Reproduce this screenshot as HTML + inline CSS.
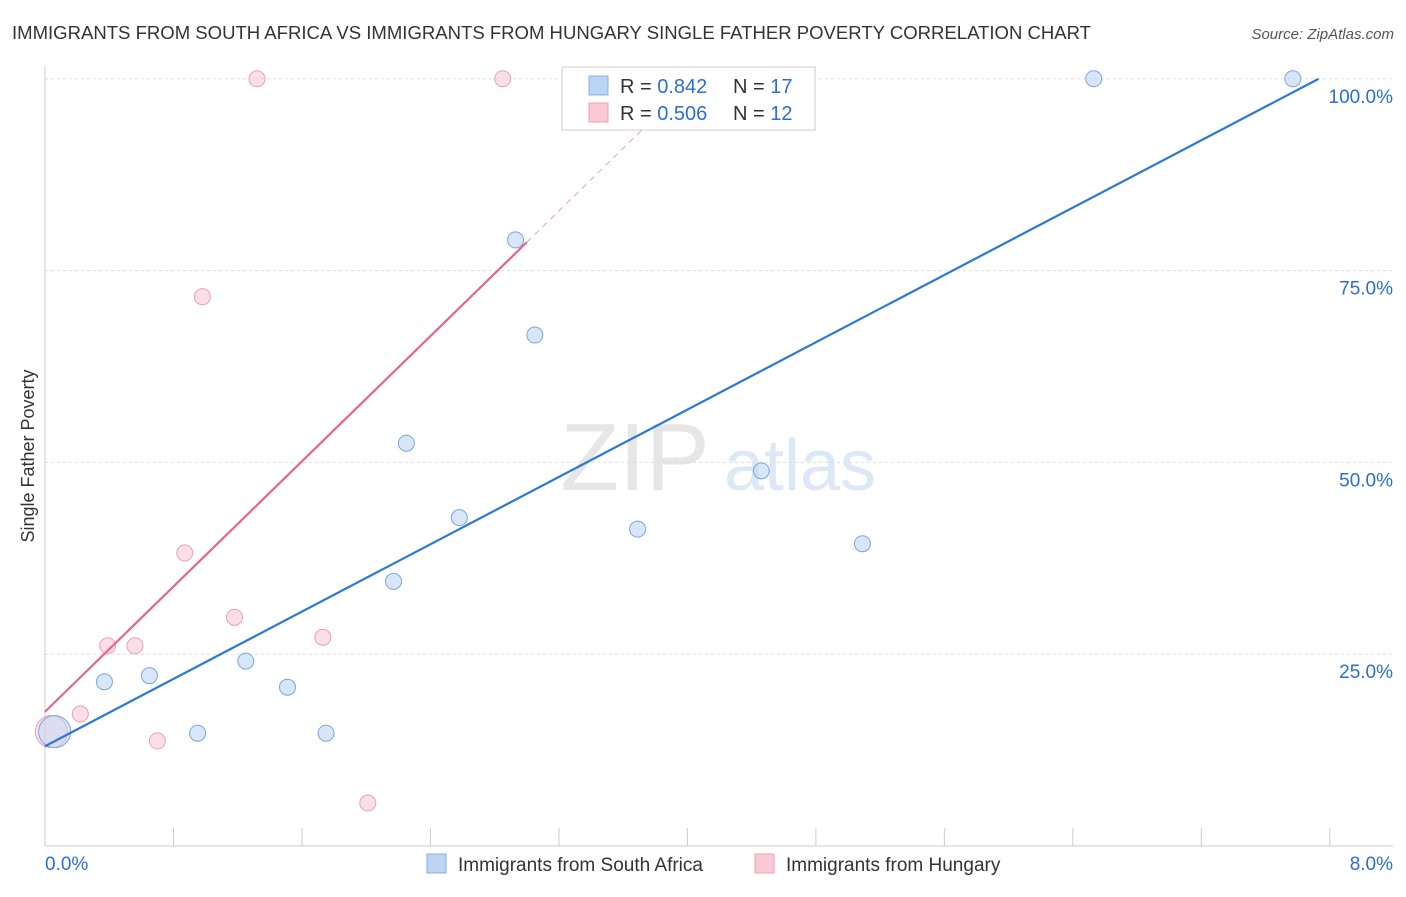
<!DOCTYPE html>
<html><head><meta charset="utf-8"><style>
body{margin:0;background:#fff;font-family:"Liberation Sans",sans-serif}
svg text{font-family:"Liberation Sans",sans-serif}
</style></head><body>
<svg id="c" width="1406" height="892">
<text x="12" y="39" font-size="18.5" fill="#333" textLength="1079" lengthAdjust="spacingAndGlyphs">IMMIGRANTS FROM SOUTH AFRICA VS IMMIGRANTS FROM HUNGARY SINGLE FATHER POVERTY CORRELATION CHART</text>
<text x="1394" y="39" font-size="15" fill="#555" font-style="italic" text-anchor="end">Source: ZipAtlas.com</text>
<g>
<text x="635" y="490" font-size="96" fill="#e6e6e6" text-anchor="middle" font-family="Liberation Serif">ZIP</text>
<text x="800" y="490" font-size="72" fill="#dce8f5" text-anchor="middle">atlas</text>
</g>
<text transform="translate(34,456) rotate(-90)" font-size="18" fill="#333" text-anchor="middle">Single Father Poverty</text>
<g id="grid"></g><g id="marks"></g>
<g>
<rect x="562" y="67" width="253" height="63" fill="#fff" stroke="#ccc"/>
<rect x="589" y="76" width="19" height="19" fill="#bcd5f5" stroke="#8ab0e0"/>
<rect x="589" y="103" width="19" height="19" fill="#f9c9d6" stroke="#eda0b5"/>
<text x="620" y="93" font-size="20" fill="#333">R = <tspan fill="#2a6fd1">0.842</tspan></text>
<text x="733" y="93" font-size="20" fill="#333">N = <tspan fill="#2a6fd1">17</tspan></text>
<text x="620" y="120" font-size="20" fill="#333">R = <tspan fill="#2a6fd1">0.506</tspan></text>
<text x="733" y="120" font-size="20" fill="#333">N = <tspan fill="#2a6fd1">12</tspan></text>
</g>
<g>
<rect x="427" y="854" width="19" height="19" fill="#bcd5f5" stroke="#8ab0e0"/>
<text x="458" y="871" font-size="19" fill="#333">Immigrants from South Africa</text>
<rect x="755" y="854" width="19" height="19" fill="#f9c9d6" stroke="#eda0b5"/>
<text x="786" y="871" font-size="19" fill="#333">Immigrants from Hungary</text>
</g>
</svg>
<script>
const blueX=[0.06,0.37,0.65,0.95,1.25,1.51,1.75,2.17,2.25,2.58,2.93,3.05,3.69,4.46,5.09,6.53,7.77];
const blueY=[14.9,21.4,22.2,14.7,24.1,20.7,14.7,34.5,52.5,42.8,79.0,66.6,41.3,48.9,39.4,100,100];
const pinkX=[0.04,0.22,0.39,0.56,0.70,0.87,0.98,1.18,1.32,1.73,2.01,2.85];
const pinkY=[14.9,17.2,26.1,26.1,13.7,38.2,71.6,29.8,100,27.2,5.6,100];
const blueTrend=[13.0,10.97,7.93];
const pinkTrend=[17.5,20.4,3.0,4.04];
const yTicks=[25,50,75,100];
const yTickLabels=["25.0%","50.0%","75.0%","100.0%"];
const xTicks=[0,0.8,1.6,2.4,3.2,4.0,4.8,5.6,6.4,7.2,8.0];
const sx=v=>45+v*160.6, sy=v=>846-v*7.672;
const NS="http://www.w3.org/2000/svg";
function mk(t,a,p){const e=document.createElementNS(NS,t);for(const k in a)e.setAttribute(k,a[k]);p.appendChild(e);return e;}
const g=document.getElementById('grid'), m=document.getElementById('marks');
yTicks.forEach((v,i)=>{
 const l=mk('line',{x1:45,x2:1393,y1:sy(v),y2:sy(v),stroke:'#ddd','stroke-dasharray':'3,3'},g);
 
 
 const t=mk('text',{x:1393,y:sy(v)+24,'font-size':19,fill:'#2a6fd1','text-anchor':'end'},g);t.textContent=yTickLabels[i];
 
 
});
mk('line',{x1:45,x2:45,y1:67,y2:846,stroke:'#ccc'},g);
mk('line',{x1:45,x2:1393,y1:846,y2:846,stroke:'#ccc'},g);
xTicks.forEach(v=>{const l=mk('line',{x1:sx(v),x2:sx(v),y1:828,y2:846,stroke:'#ccc'},g);
 
 });
let t=mk('text',{x:45,y:870,'font-size':19,fill:'#2a6fd1'},g);t.textContent='0.0%';


t=mk('text',{x:1393,y:870,'font-size':19,fill:'#2a6fd1','text-anchor':'end'},g);t.textContent='8.0%';


function dots(X,Y,fill,stroke,name){X.forEach((x,i)=>{const big=i==0;
 const c=mk('circle',{cx:sx(x),cy:sy(Y[i]),r:big?16:8,fill:fill,stroke:stroke,'stroke-width':1,'fill-opacity':big?0.5:0.6},m);
 
 });}
dots(pinkX,pinkY,'#f9c9d6','#eda0b5','hungary-point');
dots(blueX,blueY,'#bcd5f5','#7aa6e0','south-africa-point');
let l=mk('line',{x1:sx(0),y1:sy(blueTrend[0]),x2:sx(blueTrend[2]),y2:sy(blueTrend[0]+blueTrend[1]*blueTrend[2]),stroke:'#2a78d8','stroke-width':2.2},m);


l=mk('line',{x1:sx(0),y1:sy(pinkTrend[0]),x2:sx(pinkTrend[2]),y2:sy(pinkTrend[0]+pinkTrend[1]*pinkTrend[2]),stroke:'#e8648e','stroke-width':2.2},m);


l=mk('line',{x1:sx(pinkTrend[2]),y1:sy(pinkTrend[0]+pinkTrend[1]*pinkTrend[2]),x2:sx(pinkTrend[3]),y2:sy(pinkTrend[0]+pinkTrend[1]*pinkTrend[3]),stroke:'#eda0b5','stroke-width':1,'stroke-dasharray':'6,5'},m);


</script>
</body></html>
